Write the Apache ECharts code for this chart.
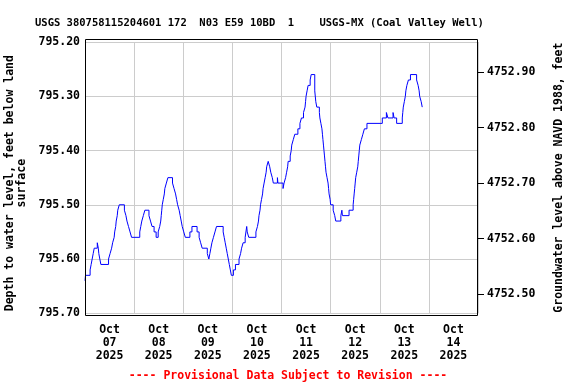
<!DOCTYPE html>
<html>
<head>
<meta charset="utf-8">
<script src="https://cdn.jsdelivr.net/npm/echarts@6/dist/echarts.min.js"></script>
<style>
html,body{margin:0;padding:0;background:#fff;}
#chart{width:576px;height:384px;}
</style>
</head>
<body>
<div id="chart"></div>
<script>
// hours since 2025-10-07 00:00
const hours = [0,0.25,2.5,3,3.5,4,4.5,6,6.5,6.75,7.25,7.75,11.5,12.25,13,13.5,14.25,14.5,15,15.25,15.75,16,16.75,19.25,20,20.5,21.25,22,22.75,26.75,27.25,27.75,28.5,29.25,31.25,32,32.75,33.75,34.75,35.75,36.5,37,37.25,37.5,37.75,38.25,38.75,39,39.75,40.5,42.75,43.5,44.25,44.75,45.25,46,46.5,47,47.5,48.25,49,51.25,52.25,54.75,55.75,56.5,57.25,59.75,60.5,61,61.5,62,62.75,63.5,64.25,67.5,68,68.5,69,69.5,70,70.5,71,71.5,72.5,73.5,75.25,76,76.5,77.25,78.25,79,79.25,80,83.5,84.25,84.75,85,85.5,85.75,86.25,86.75,87,87.5,88,88.5,88.75,89.5,90.25,90.75,91.5,92,94,94.25,96.75,97.25,98,98.5,99,99.25,100.25,100.75,101,101.75,102.5,104,105,105.75,106.75,107.5,107.75,108,108.5,109,110,110.5,112.25,112.75,113.25,114.5,114.75,115.25,115.75,116,116.25,116.5,116.75,117,117.25,117.5,117.75,118.25,118.75,119,119.25,119.75,120,121.25,122,122.5,125,125.5,125.75,129,131,131.25,131.5,131.75,132,132.25,132.75,133.25,133.5,133.75,134,134.25,135,135.75,136.5,137.75,145.25,147.25,148,150.5,151,152.25,155,155.25,155.5,156,156.5,156.75,157.25,158,159,162,162.75,163.25,163.5,164.25,164.75,165];
const depths = [795.64,795.63,795.62,795.61,795.60,795.59,795.58,795.57,795.58,795.59,795.60,795.61,795.60,795.59,795.58,795.57,795.56,795.55,795.54,795.53,795.52,795.51,795.50,795.51,795.52,795.53,795.54,795.55,795.56,795.55,795.54,795.53,795.52,795.51,795.52,795.53,795.54,795.55,795.56,795.55,795.54,795.53,795.52,795.51,795.50,795.49,795.48,795.47,795.46,795.45,795.46,795.47,795.48,795.49,795.50,795.51,795.52,795.53,795.54,795.55,795.56,795.55,795.54,795.55,795.56,795.57,795.58,795.59,795.60,795.59,795.58,795.57,795.56,795.55,795.54,795.55,795.56,795.57,795.58,795.59,795.60,795.61,795.62,795.63,795.62,795.61,795.60,795.59,795.58,795.57,795.56,795.54,795.55,795.56,795.55,795.54,795.53,795.52,795.51,795.50,795.49,795.48,795.47,795.46,795.45,795.44,795.43,795.42,795.43,795.44,795.45,795.46,795.45,795.46,795.47,795.46,795.45,795.44,795.43,795.42,795.41,795.40,795.39,795.38,795.37,795.36,795.35,795.34,795.33,795.32,795.31,795.30,795.29,795.28,795.27,795.26,795.29,795.31,795.32,795.33,795.34,795.35,795.36,795.37,795.38,795.39,795.40,795.41,795.42,795.43,795.44,795.45,795.46,795.47,795.48,795.49,795.50,795.51,795.52,795.53,795.52,795.51,795.52,795.51,795.50,795.49,795.48,795.47,795.46,795.45,795.44,795.43,795.42,795.41,795.40,795.39,795.38,795.37,795.36,795.35,795.34,795.33,795.34,795.33,795.34,795.35,795.34,795.33,795.32,795.31,795.30,795.29,795.28,795.27,795.26,795.27,795.28,795.29,795.30,795.31,795.32,795.32];
const dayLabels = ['07','08','09','10','11','12','13','14'];
const labelHours = [12,36,60,84,108,132,156,180];
const depthTicks = [795.2,795.3,795.4,795.5,795.6,795.7];
const elevTicks = [4752.5,4752.6,4752.7,4752.8,4752.9];
const titleText = 'USGS 380758115204601 172  N03 E59 10BD  1    USGS-MX (Coal Valley Well)';
const footerText = '---- Provisional Data Subject to Revision ----';

const FONT = 'DejaVu Sans Mono';
const chart = echarts.init(document.getElementById('chart'), null, {renderer: 'canvas'});
const lineData = hours.map((h, i) => [h, depths[i]]);

chart.setOption({
  animation: false,
  backgroundColor: '#ffffff',
  title: [{
    text: titleText, left: 30, top: 13,
    textStyle: {fontFamily: FONT, fontWeight: 'bold', fontSize: 10.5, color: '#000'}
  }, {
    text: footerText, left: 'center', top: 365,
    textStyle: {fontFamily: FONT, fontWeight: 'bold', fontSize: 11.5, color: '#ff0000'}
  }],
  grid: {left: 85, right: 98, top: 42, bottom: 70.7, containLabel: false, outerBoundsMode: 'none'},
  xAxis: {
    type: 'value', min: 0, max: 192, interval: 24,
    axisLine: {show: false}, axisTick: {show: false},
    splitLine: {show: true, lineStyle: {color: '#cccccc', width: 1}},
    axisLabel: {
      customValues: labelHours, margin: 10,
      fontFamily: FONT, fontWeight: 'bold', fontSize: 11.5, color: '#000', lineHeight: 13,
      formatter: v => 'Oct\n' + dayLabels[Math.floor(v / 24)] + '\n2025'
    }
  },
  yAxis: [{
    type: 'value', inverse: true, min: 795.2, max: 795.7, interval: 0.1,
    position: 'left',
    axisLine: {show: false}, axisTick: {show: false},
    splitLine: {show: true, lineStyle: {color: '#cccccc', width: 1}},
    axisLabel: {customValues: depthTicks, margin: 5, fontFamily: FONT, fontWeight: 'bold', fontSize: 11.5, color: '#000',
      formatter: v => v.toFixed(2)},
    name: 'Depth to water level, feet below land\nsurface',
    nameLocation: 'middle', nameGap: 53, nameRotate: 90,
    nameTextStyle: {fontFamily: FONT, fontWeight: 'bold', fontSize: 11.5, color: '#000', lineHeight: 12, padding: [0, 11, 0, 0]}
  }, {
    type: 'value', min: 4752.4652, max: 4752.9547,
    position: 'right',
    axisLine: {show: false},
    axisTick: {show: true, customValues: elevTicks, length: 6, lineStyle: {color: '#000'}},
    splitLine: {show: false},
    axisLabel: {customValues: elevTicks, margin: 9, fontFamily: FONT, fontWeight: 'bold', fontSize: 11.5, color: '#000',
      formatter: v => v.toFixed(2)},
    name: 'Groundwater level above NAVD 1988, feet',
    nameLocation: 'middle', nameGap: 75, nameRotate: 90,
    nameTextStyle: {fontFamily: FONT, fontWeight: 'bold', fontSize: 11.5, color: '#000'}
  }],
  series: [{
    type: 'line', data: lineData, step: 'end', showSymbol: false, symbol: 'none',
    lineStyle: {color: '#0000ff', width: 1}, xAxisIndex: 0, yAxisIndex: 0
  }],
  graphic: [{
    type: 'rect', z: 100,
    shape: {x: 85.5, y: 39.5, width: 392, height: 276},
    style: {fill: 'none', stroke: '#000', lineWidth: 1}
  }]
});
</script>
</body>
</html>
